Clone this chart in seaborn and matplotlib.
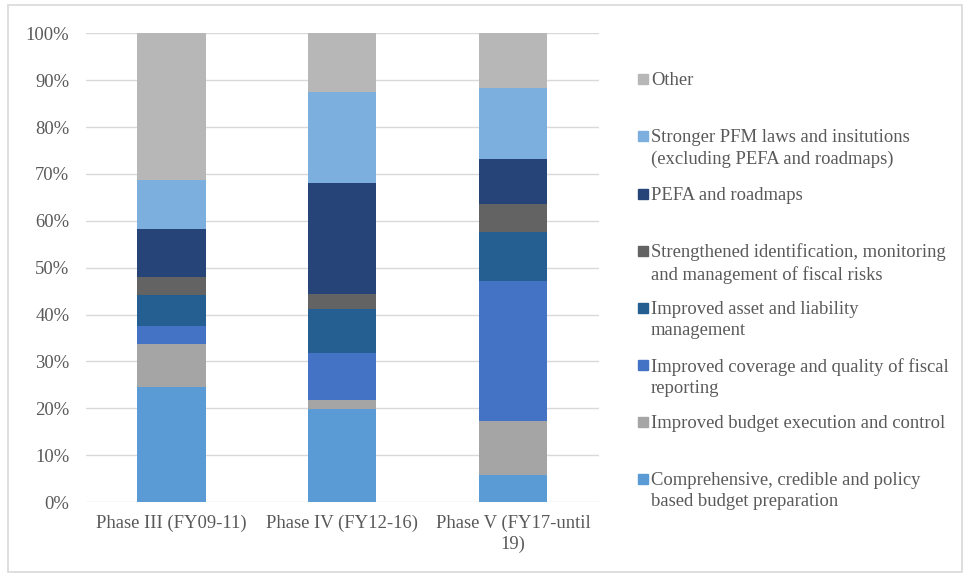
import numpy as np
import pandas as pd
import matplotlib
matplotlib.use("Agg")
import matplotlib.pyplot as plt
from matplotlib.patches import Rectangle
from matplotlib.ticker import PercentFormatter
import seaborn as sns

# ── data (share of each area per phase, %) ──────────────────────────────
phases = ["Phase III (FY09-11)", "Phase IV (FY12-16)", "Phase V (FY17-until\n19)"]

comprehensive = [24.6, 19.9, 5.7]
budget_exec = [9.1, 1.9, 11.6]
fiscal_reporting = [3.9, 10.0, 29.8]
asset_liability = [6.5, 9.3, 10.5]
fiscal_risks = [3.9, 3.3, 5.9]
pefa = [10.3, 23.7, 9.6]
stronger_pfm = [10.5, 19.3, 15.3]
other = [31.2, 12.6, 11.6]

series_names = [
    "Comprehensive, credible and policy\nbased budget preparation",
    "Improved budget execution and control",
    "Improved coverage and quality of fiscal\nreporting",
    "Improved asset and liability\nmanagement",
    "Strengthened identification, monitoring\nand management of fiscal risks",
    "PEFA and roadmaps",
    "Stronger PFM laws and insitutions\n(excluding PEFA and roadmaps)",
    "Other",
]
series_vals = [comprehensive, budget_exec, fiscal_reporting, asset_liability,
               fiscal_risks, pefa, stronger_pfm, other]
colors = ["#5B9BD5", "#A5A5A5", "#4472C4", "#255E91",
          "#636363", "#264478", "#7CAFDD", "#B7B7B7"]

# ── stacked via cumulative sums (drawn top series first) ───────────────
vals = np.array(series_vals)
cum = vals.cumsum(axis=0)
rows = []
for i, name in enumerate(series_names):
    for j, ph in enumerate(phases):
        rows.append({"phase": ph, "series": name, "cum": cum[i, j]})
df = pd.DataFrame(rows)

sns.set_theme(style="white")
plt.rcParams["font.family"] = ["Liberation Serif", "DejaVu Serif"]
TXT = "#595959"
FS = 13.4

fig = plt.figure(figsize=(9.63, 5.73), dpi=100)
ax = fig.add_axes([0.0893, 0.1239, 0.5322, 0.818])

for i in reversed(range(len(series_names))):
    sub = df[df["series"] == series_names[i]]
    sns.barplot(data=sub, x="phase", y="cum", order=phases, color=colors[i],
                width=0.4, saturation=1, errorbar=None, ax=ax, zorder=3,
                linewidth=0)

ax.set_ylim(0, 100)
ax.set_xlim(-0.5, 2.5)
ax.set_yticks(np.arange(0, 101, 10))
ax.yaxis.set_major_formatter(PercentFormatter(decimals=0))
ax.grid(axis="y", color="#D9D9D9", linewidth=1.0, zorder=0)
ax.set_axisbelow(True)
for s in ax.spines.values():
    s.set_visible(False)
ax.set_xlabel("")
ax.set_ylabel("")
ax.tick_params(axis="y", length=0, pad=12, labelsize=FS, labelcolor=TXT)
ax.tick_params(axis="x", length=0, pad=9, labelsize=FS, labelcolor=TXT)
for t in ax.get_xticklabels():
    t.set_linespacing(1.3)

# ── legend (Excel-style, right side) ────────────────────────────────────
W, H = 963, 573
for k, i in enumerate(reversed(range(len(series_names)))):
    yc = 79.3 + 57.1 * k
    fig.patches.append(Rectangle((638 / W, 1 - (yc + 5) / H), 10 / W, 10 / H,
                                 transform=fig.transFigure, color=colors[i]))
    fig.text(651 / W, 1 - (yc - 7) / H, series_names[i], ha="left", va="top",
             fontsize=FS, color=TXT, linespacing=1.3)

# chart area border
fig.patches.append(Rectangle((8 / W, 1 / H), 954 / W, (568 - 1) / H,
                             transform=fig.transFigure, fill=False,
                             edgecolor="#D9D9D9", linewidth=1.2))

fig.savefig("out.png", dpi=100)
